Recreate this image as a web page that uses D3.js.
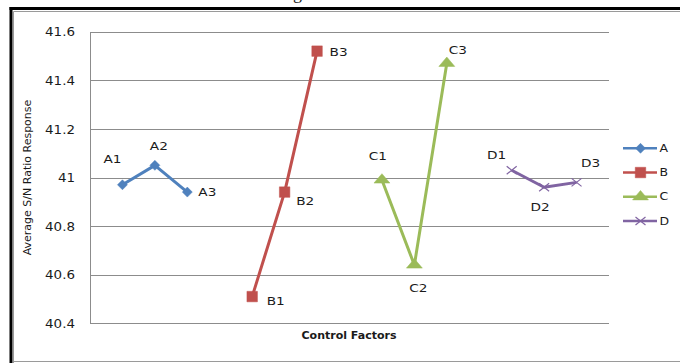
<!DOCTYPE html>
<html>
<head>
<meta charset="utf-8">
<script src="https://cdn.jsdelivr.net/npm/d3@7"></script>
<style>
  html, body { margin: 0; padding: 0; background: #fff; }
  svg { display: block; }
  text { font-family: "DejaVu Sans", sans-serif; fill: #1a1a1a; }
</style>
</head>
<body>
<svg id="chart" width="680" height="363"></svg>
<script>
// ---- Data ----
const categories = ["", "A1", "A2", "A3", "", "B1", "B2", "B3", "", "C1", "C2", "C3", "", "D1", "D2", "D3", ""];
const seriesNames = ["A", "B", "C", "D"];
const levelsA = ["A1", "A2", "A3"];
const levelsB = ["B1", "B2", "B3"];
const levelsC = ["C1", "C2", "C3"];
const levelsD = ["D1", "D2", "D3"];
const valuesA = [40.97, 41.05, 40.94];
const valuesB = [40.51, 40.94, 41.52];
const valuesC = [40.99, 40.64, 41.47];
const valuesD = [41.03, 40.96, 40.98];
const yTicks = [40.4, 40.6, 40.8, 41.0, 41.2, 41.4, 41.6];
const yTickLabels = ["40.4", "40.6", "40.8", "41", "41.2", "41.4", "41.6"];
const yTitle = "Average S/N Ratio Response";
const xTitle = "Control Factors";

// ---- Styles / layout (not data) ----
const colors = { A: "#4F81BD", B: "#C0504D", C: "#9BBB59", D: "#8064A2" };
const labelPos = {
  A1: [-10, -22, "middle"], A2: [4, -15, "middle"], A3: [11, 3.5, "start"],
  B1: [14.5, 8.5, "start"], B2: [11.5, 13, "start"], B3: [12.5, 4.5, "start"],
  C1: [-4, -20, "middle"], C2: [4, 27, "middle"], C3: [11, -9, "middle"],
  D1: [-15, -11, "middle"], D2: [-4, 24, "middle"], D3: [14, -15, "middle"]
};

const series = [
  { name: "A", levels: levelsA, values: valuesA },
  { name: "B", levels: levelsB, values: valuesB },
  { name: "C", levels: levelsC, values: valuesC },
  { name: "D", levels: levelsD, values: valuesD }
];

const svg = d3.select("#chart");

// frame
svg.append("rect").attr("x", 0).attr("y", 0).attr("width", 680).attr("height", 363).attr("fill", "#fff");
svg.append("text").attr("x", 293).attr("y", -1)
  .attr("font-size", 18).style("font-family", "'Liberation Serif', serif").text("g");
svg.append("line").attr("x1", 9.5).attr("x2", 680).attr("y1", 8.5).attr("y2", 8.5)
  .attr("stroke", "#000").attr("stroke-width", 3);
svg.append("line").attr("x1", 11).attr("x2", 11).attr("y1", 7).attr("y2", 363)
  .attr("stroke", "#000").attr("stroke-width", 3);
svg.append("path").attr("d", "M13.5,363 V11.5 H680").attr("fill", "none").attr("stroke", "#9a9a9a").attr("stroke-width", 1);
svg.append("line").attr("x1", 13.5).attr("x2", 680).attr("y1", 361.5).attr("y2", 361.5)
  .attr("stroke", "#9a9a9a").attr("stroke-width", 1);

// scales
const x = d3.scalePoint().domain(d3.range(categories.length)).range([90, 609]);
const y = d3.scaleLinear().domain([40.4, 41.6]).range([323.3, 31.7]);

// gridlines via axis
const grid = svg.append("g").attr("transform", "translate(90,0)")
  .call(d3.axisRight(y).tickValues(yTicks).tickSize(519).tickFormat(""));
grid.select(".domain").remove();
grid.selectAll(".tick line").attr("stroke", "#8c8c8c").attr("stroke-width", 1)
  .attr("shape-rendering", "crispEdges");

// y axis
const yAxis = svg.append("g").attr("transform", "translate(90,0)")
  .call(d3.axisLeft(y).tickValues(yTicks).tickSize(0).tickPadding(15)
    .tickFormat((d, i) => yTickLabels[i]));
yAxis.select(".domain").attr("stroke", "#8c8c8c").attr("shape-rendering", "crispEdges");
yAxis.selectAll(".tick text")
  .style("font-family", "'DejaVu Sans', sans-serif").attr("font-size", 11.5).attr("fill", "#1a1a1a")
  .attr("x", null).attr("dy", null)
  .attr("dominant-baseline", "central")
  .attr("transform", "translate(-15,0) scale(1.17,1)");

// axis titles
svg.append("text").attr("transform", "translate(31,177.5) rotate(-90)")
  .attr("text-anchor", "middle").attr("font-size", 11).text(yTitle);
svg.append("text").attr("x", 349).attr("y", 338.5)
  .attr("text-anchor", "middle").attr("font-size", 11).attr("font-weight", "bold").text(xTitle);

// series
const line = d3.line().x(d => x(d.i)).y(d => y(d.v));
function markerPath(name) {
  if (name === "A") return "M0,-5L5,0L0,5L-5,0Z";
  if (name === "B") return d3.symbol().type(d3.symbolSquare).size(110)();
  if (name === "C") return d3.symbol().type(d3.symbolTriangle).size(70)();
  return "M-5,-4L5,4M-5,4L5,-4";
}

series.forEach(s => {
  const pts = s.levels.map((lv, k) => ({ i: categories.indexOf(lv), v: s.values[k], label: lv }));
  const g = svg.append("g");
  g.append("path").datum(pts).attr("d", line).attr("fill", "none")
    .attr("stroke", colors[s.name]).attr("stroke-width", 3).attr("stroke-linejoin", "round");
  g.selectAll("path.m").data(pts).enter().append("path").attr("class", "m")
    .attr("transform", d => `translate(${x(d.i)},${y(d.v)})` + (s.name === "C" ? " scale(1.25,0.85)" : ""))
    .attr("d", markerPath(s.name))
    .attr("fill", s.name === "D" ? "none" : colors[s.name])
    .attr("stroke", colors[s.name])
    .attr("stroke-width", s.name === "D" ? 1.2 : 0.5);
  g.selectAll("text").data(pts).enter().append("text")
    .attr("font-size", 10.5)
    .attr("text-anchor", d => labelPos[d.label][2])
    .attr("transform", d => `translate(${x(d.i) + labelPos[d.label][0]},${y(d.v) + labelPos[d.label][1]}) scale(1.3,1)`)
    .text(d => d.label);
});

// legend
const legendY = d3.scalePoint().domain(seriesNames).range([148.3, 221]);
const leg = svg.append("g");
seriesNames.forEach(n => {
  const ly = legendY(n);
  leg.append("line").attr("x1", 623).attr("x2", 657).attr("y1", ly).attr("y2", ly)
    .attr("stroke", colors[n]).attr("stroke-width", 2.5);
  leg.append("path")
    .attr("transform", `translate(640.5,${ly})` + (n === "C" ? " scale(1.25,0.85)" : ""))
    .attr("d", markerPath(n))
    .attr("fill", n === "D" ? "none" : colors[n])
    .attr("stroke", colors[n]).attr("stroke-width", n === "D" ? 1.2 : 0.5);
  leg.append("text").attr("font-size", 10)
    .attr("transform", `translate(659.5,${ly + 3.6}) scale(1.25,1)`).text(n);
});
</script>
</body>
</html>
